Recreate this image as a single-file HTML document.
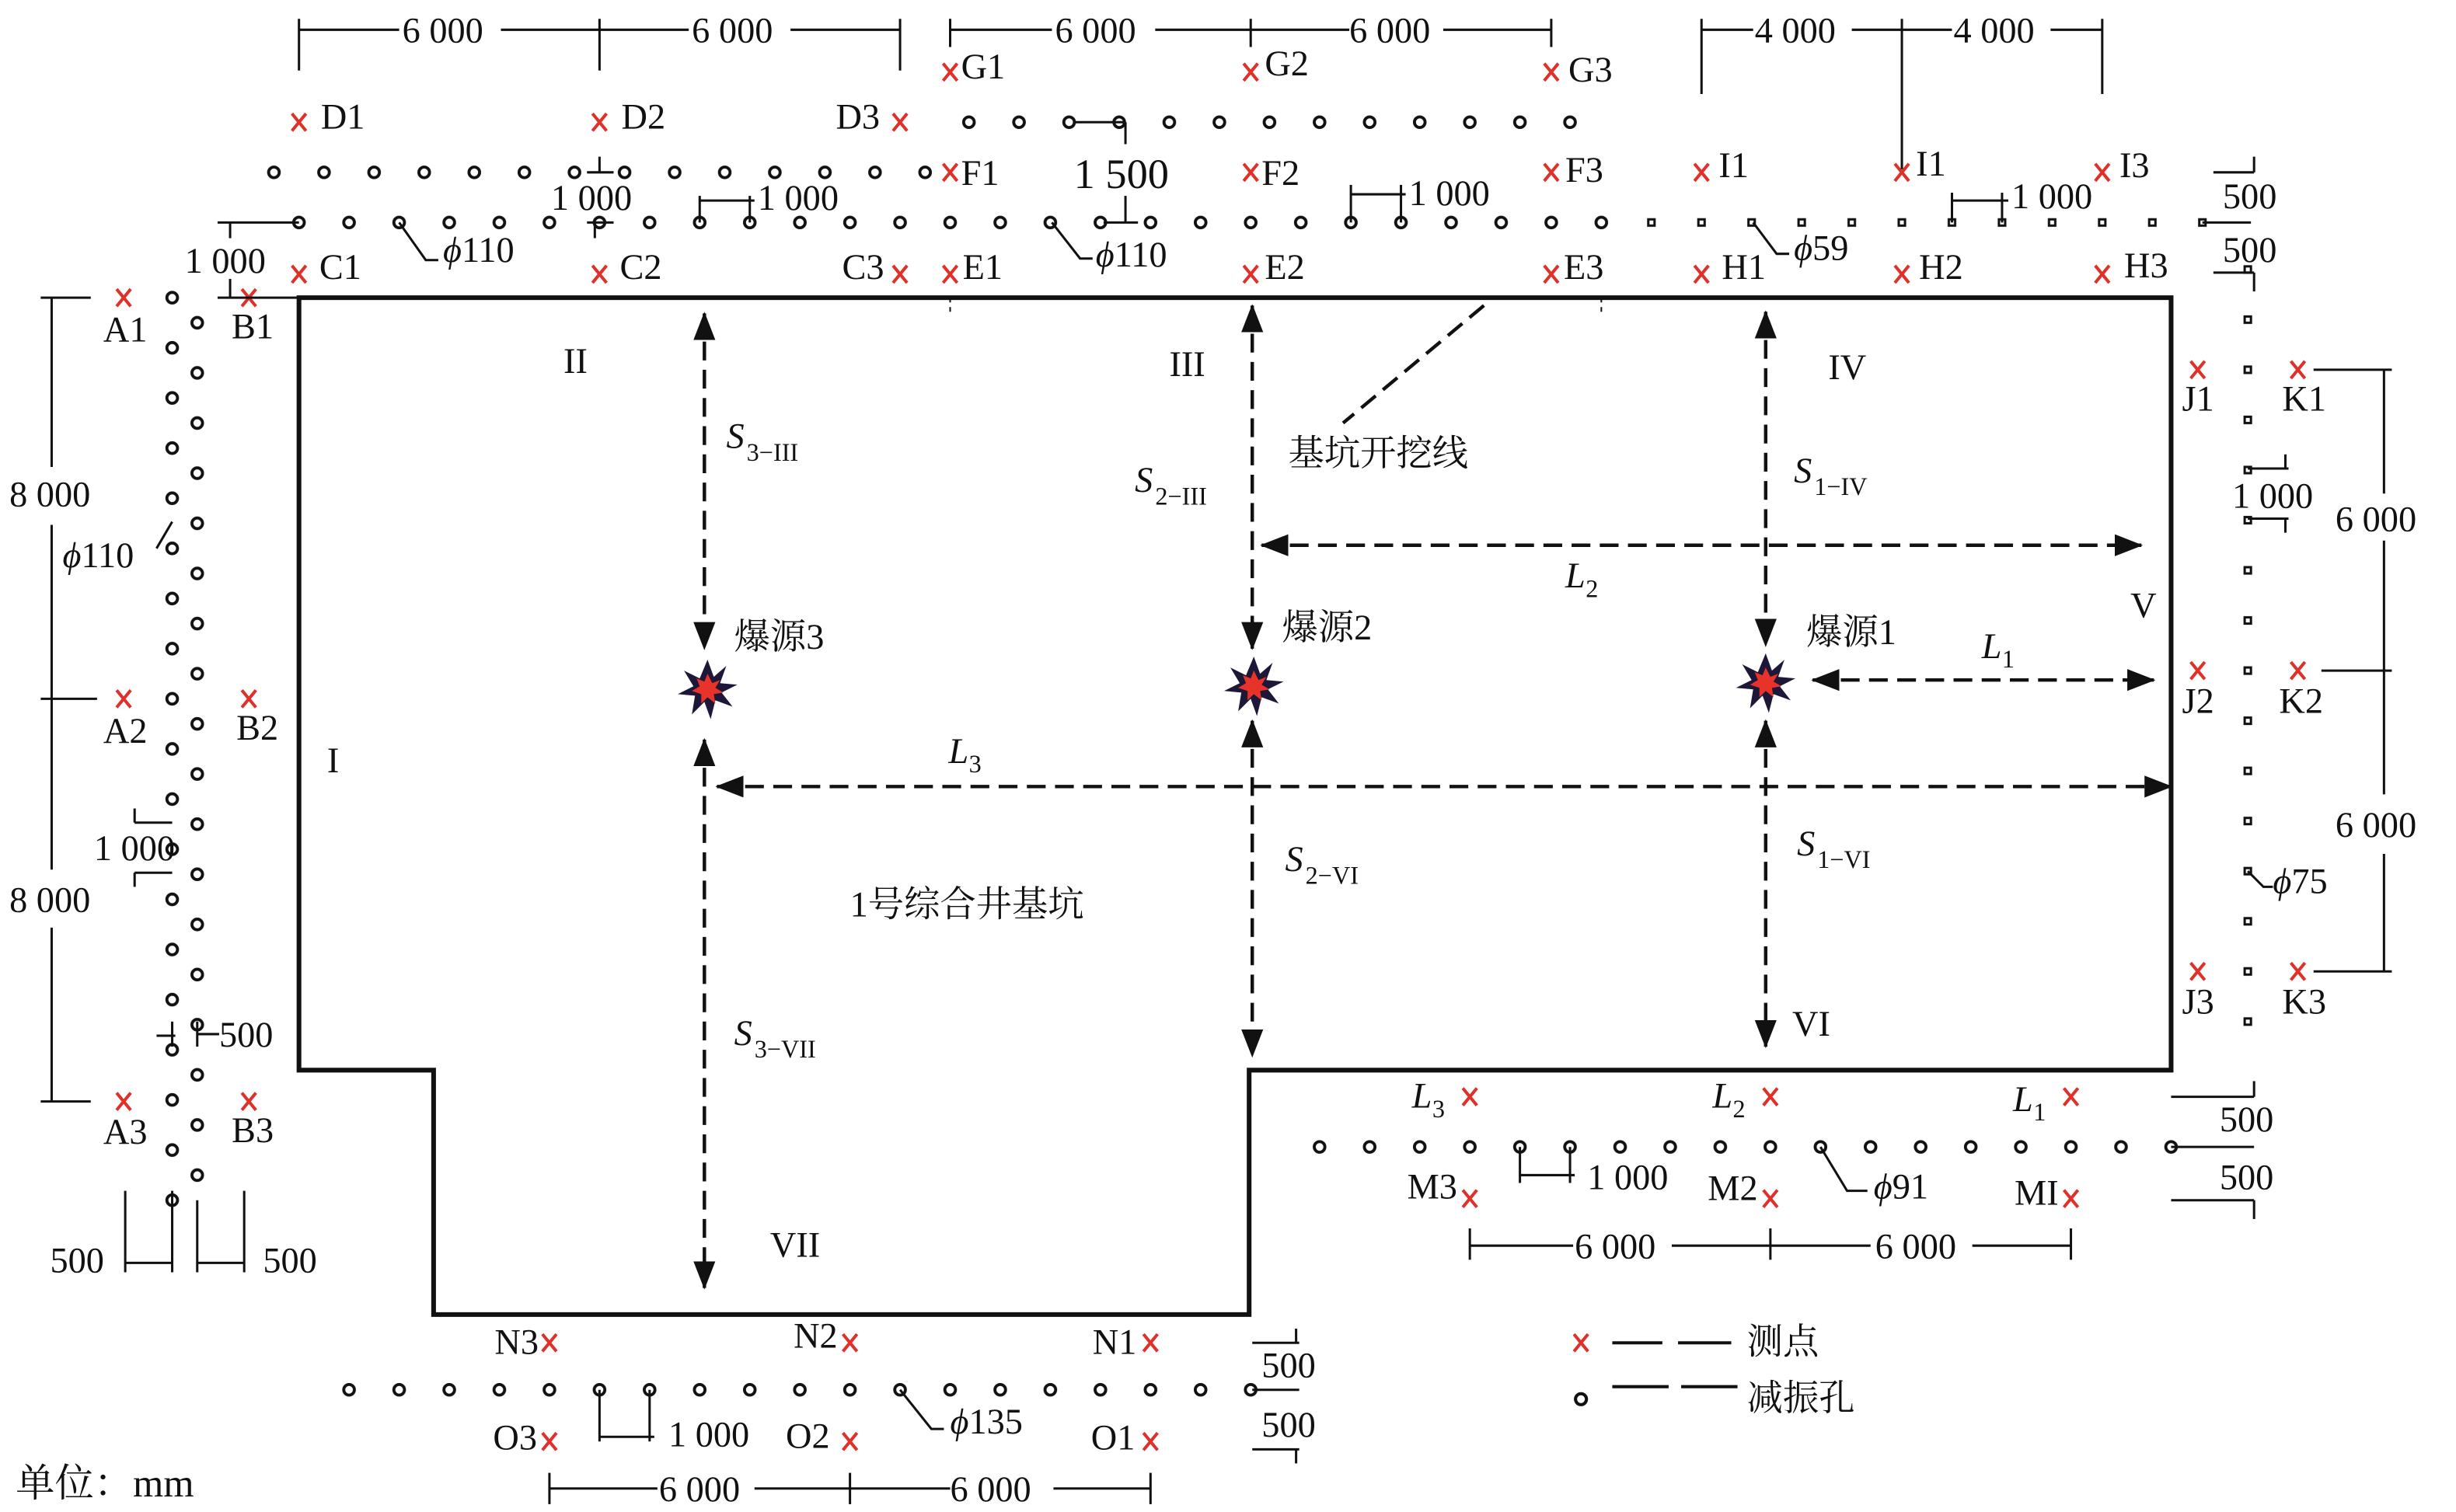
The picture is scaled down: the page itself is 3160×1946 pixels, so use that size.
<!DOCTYPE html>
<html><head><meta charset="utf-8"><style>
html,body{margin:0;padding:0;background:#fff}
svg{display:block}
text{font-family:"Liberation Serif","Noto Serif CJK SC",serif;fill:#111;font-size:23px}
.cn{font-family:"Liberation Serif","Noto Serif CJK SC","Noto Sans CJK SC",serif;font-size:23px}
.it{font-style:italic}
.sub{font-size:16px}
</style></head><body>
<svg width="3160" height="1946" viewBox="0 0 1569 965" preserveAspectRatio="none" xmlns="http://www.w3.org/2000/svg">
<defs>
<pattern id="ph" patternUnits="userSpaceOnUse" width="32" height="20"><circle cx="16" cy="10" r="3.4" fill="none" stroke="#111" stroke-width="1.9"/></pattern>
<pattern id="ps" patternUnits="userSpaceOnUse" width="32" height="20"><rect x="14" y="8" width="4" height="4" fill="none" stroke="#111" stroke-width="1.5"/></pattern>
<pattern id="pv" patternUnits="userSpaceOnUse" width="20" height="32"><rect x="8" y="14" width="4" height="4" fill="none" stroke="#111" stroke-width="1.5"/></pattern>
<pattern id="pz" patternUnits="userSpaceOnUse" width="32" height="32"><circle cx="8" cy="8" r="3.4" fill="none" stroke="#111" stroke-width="1.9"/><circle cx="24" cy="24" r="3.4" fill="none" stroke="#111" stroke-width="1.9"/></pattern>
<symbol id="x" viewBox="-6 -6 12 12" overflow="visible"><path d="M-4.5,-5.5L4.5,5.5M4.5,-5.5L-4.5,5.5" stroke="#e0302a" stroke-width="2"/></symbol>
<symbol id="boom" viewBox="-20 -20 40 40" overflow="visible">
<polygon points="0,-19 4,-8 12,-15 8,-4 19,-3 9,2 16,11 5,7 2,19 -2,8 -10,16 -8,4 -19,3 -9,-2 -15,-12 -5,-7" fill="#1e1838"/>
<polygon points="0,-10 3,-4 8,-6 5,-1 10,2 4,3 5,9 0,5 -4,9 -4,3 -10,1 -5,-2 -7,-7 -2,-5" fill="#e8332a"/>
</symbol>
<marker id="ah2" markerWidth="18" markerHeight="14" refX="17" refY="7" orient="auto-start-reverse" markerUnits="userSpaceOnUse"><path d="M0,0L18,7L0,14Z" fill="#111"/></marker>
</defs>

<polygon points="191,190 1387,190 1387,683 798,683 798,839 277,839 277,683 191,683" fill="none" stroke="#111" stroke-width="3"/>

<g transform="translate(603,68)"><rect width="416" height="20" fill="url(#ph)"/></g>
<g transform="translate(159,100)"><rect width="448" height="20" fill="url(#ph)"/></g>
<g transform="translate(175,132)"><rect width="864" height="20" fill="url(#ph)"/></g>
<g transform="translate(1039,132)"><rect width="384" height="20" fill="url(#ps)"/></g>
<g transform="translate(102,182)"><rect width="32" height="592" fill="url(#pz)"/></g>
<g transform="translate(1426,156)"><rect width="20" height="512" fill="url(#pv)"/></g>
<g transform="translate(827,722)"><rect width="576" height="20" fill="url(#ph)"/></g>
<g transform="translate(207,877)"><rect width="608" height="20" fill="url(#ph)"/></g>

<g>
<use href="#x" x="73" y="184" width="12" height="12"/><use href="#x" x="153" y="184" width="12" height="12"/>
<use href="#x" x="185" y="169" width="12" height="12"/><use href="#x" x="185" y="72" width="12" height="12"/>
<use href="#x" x="377" y="169" width="12" height="12"/><use href="#x" x="377" y="72" width="12" height="12"/>
<use href="#x" x="569" y="169" width="12" height="12"/><use href="#x" x="569" y="72" width="12" height="12"/>
<use href="#x" x="601" y="169" width="12" height="12"/><use href="#x" x="601" y="104" width="12" height="12"/><use href="#x" x="601" y="40" width="12" height="12"/>
<use href="#x" x="793" y="169" width="12" height="12"/><use href="#x" x="793" y="104" width="12" height="12"/><use href="#x" x="793" y="40" width="12" height="12"/>
<use href="#x" x="985" y="169" width="12" height="12"/><use href="#x" x="985" y="104" width="12" height="12"/><use href="#x" x="985" y="40" width="12" height="12"/>
<use href="#x" x="1081" y="169" width="12" height="12"/><use href="#x" x="1081" y="104" width="12" height="12"/>
<use href="#x" x="1209" y="169" width="12" height="12"/><use href="#x" x="1209" y="104" width="12" height="12"/>
<use href="#x" x="1337" y="169" width="12" height="12"/><use href="#x" x="1337" y="104" width="12" height="12"/>
<use href="#x" x="1398" y="230" width="12" height="12"/><use href="#x" x="1462" y="230" width="12" height="12"/>
<use href="#x" x="1398" y="422" width="12" height="12"/><use href="#x" x="1462" y="422" width="12" height="12"/>
<use href="#x" x="1398" y="614" width="12" height="12"/><use href="#x" x="1462" y="614" width="12" height="12"/>
<use href="#x" x="73" y="440" width="12" height="12"/><use href="#x" x="153" y="440" width="12" height="12"/>
<use href="#x" x="73" y="697" width="12" height="12"/><use href="#x" x="153" y="697" width="12" height="12"/>
<use href="#x" x="933" y="694" width="12" height="12"/><use href="#x" x="1125" y="694" width="12" height="12"/><use href="#x" x="1317" y="694" width="12" height="12"/>
<use href="#x" x="933" y="759" width="12" height="12"/><use href="#x" x="1125" y="759" width="12" height="12"/><use href="#x" x="1317" y="759" width="12" height="12"/>
<use href="#x" x="345" y="851" width="12" height="12"/><use href="#x" x="537" y="851" width="12" height="12"/><use href="#x" x="729" y="851" width="12" height="12"/>
<use href="#x" x="345" y="914" width="12" height="12"/><use href="#x" x="537" y="914" width="12" height="12"/><use href="#x" x="729" y="914" width="12" height="12"/>
<use href="#x" x="1004" y="851" width="12" height="12"/>
</g>

<text x="66" y="218">A1</text><text x="148" y="216">B1</text>
<text x="204" y="178">C1</text><text x="205" y="82">D1</text>
<text x="396" y="178">C2</text><text x="397" y="82">D2</text>
<text x="538" y="178">C3</text><text x="534" y="82">D3</text>
<text x="615" y="178">E1</text><text x="614" y="118">F1</text><text x="614" y="50">G1</text>
<text x="808" y="178">E2</text><text x="806" y="118">F2</text><text x="808" y="48">G2</text>
<text x="999" y="178">E3</text><text x="1000" y="116">F3</text><text x="1002" y="52">G3</text>
<text x="1100" y="178">H1</text><text x="1098" y="113">I1</text>
<text x="1226" y="178">H2</text><text x="1224" y="112">I1</text>
<text x="1357" y="177">H3</text><text x="1354" y="113">I3</text>
<text x="1394" y="262">J1</text><text x="1458" y="262">K1</text>
<text x="1394" y="455">J2</text><text x="1456" y="455">K2</text>
<text x="1394" y="647">J3</text><text x="1458" y="647">K3</text>
<text x="66" y="474">A2</text><text x="151" y="472">B2</text>
<text x="66" y="730">A3</text><text x="148" y="729">B3</text>
<text x="902" y="707" class="it">L</text><text x="915" y="713" class="sub">3</text>
<text x="1094" y="707" class="it">L</text><text x="1107" y="713" class="sub">2</text>
<text x="1286" y="709" class="it">L</text><text x="1299" y="715" class="sub">1</text>
<text x="899" y="765">M3</text><text x="1091" y="766">M2</text><text x="1287" y="769">MI</text>
<text x="316" y="864">N3</text><text x="507" y="860">N2</text><text x="698" y="864">N1</text>
<text x="315" y="925">O3</text><text x="502" y="924">O2</text><text x="697" y="925">O1</text>

<text x="360" y="238">II</text><text x="747" y="240">III</text><text x="1168" y="242">IV</text>
<text x="1361" y="394">V</text><text x="209" y="493">I</text><text x="1145" y="661">VI</text><text x="492" y="802">VII</text>

<g stroke="#111" stroke-width="2.2" stroke-dasharray="12,6" fill="none">
<line x1="450" y1="200" x2="450" y2="414" marker-start="url(#ah2)" marker-end="url(#ah2)"/>
<line x1="450" y1="472" x2="450" y2="822" marker-start="url(#ah2)" marker-end="url(#ah2)"/>
<line x1="800" y1="195" x2="800" y2="414" marker-start="url(#ah2)" marker-end="url(#ah2)"/>
<line x1="800" y1="460" x2="800" y2="674" marker-start="url(#ah2)" marker-end="url(#ah2)"/>
<line x1="1128" y1="199" x2="1128" y2="412" marker-start="url(#ah2)" marker-end="url(#ah2)"/>
<line x1="1128" y1="460" x2="1128" y2="668" marker-start="url(#ah2)" marker-end="url(#ah2)"/>
<line x1="806" y1="348" x2="1368" y2="348" marker-start="url(#ah2)" marker-end="url(#ah2)"/>
<line x1="1158" y1="434" x2="1376" y2="434" marker-start="url(#ah2)" marker-end="url(#ah2)"/>
<line x1="458" y1="502" x2="1387" y2="502" marker-start="url(#ah2)" marker-end="url(#ah2)"/>
<line x1="948" y1="195" x2="858" y2="270"/>
</g>
<g stroke="#111" stroke-width="1" stroke-dasharray="3,3"><line x1="607" y1="190" x2="607" y2="202"/><line x1="1023" y1="190" x2="1023" y2="202"/></g>

<use href="#boom" x="432" y="420" width="40" height="40"/>
<use href="#boom" x="781" y="418" width="40" height="40"/>
<use href="#boom" x="1108" y="416" width="40" height="40"/>

<text x="464" y="286" class="it">S</text><text x="477" y="294" class="sub">3−III</text>
<text x="725" y="314" class="it">S</text><text x="738" y="322" class="sub">2−III</text>
<text x="1146" y="308" class="it">S</text><text x="1159" y="316" class="sub">1−IV</text>
<text x="821" y="556" class="it">S</text><text x="834" y="564" class="sub">2−VI</text>
<text x="1148" y="546" class="it">S</text><text x="1161" y="554" class="sub">1−VI</text>
<text x="469" y="667" class="it">S</text><text x="482" y="675" class="sub">3−VII</text>
<text x="1000" y="375" class="it">L</text><text x="1013" y="381" class="sub">2</text>
<text x="1266" y="420" class="it">L</text><text x="1279" y="426" class="sub">1</text>
<text x="606" y="487" class="it">L</text><text x="619" y="493" class="sub">3</text>
<text x="469" y="414" class="cn">爆源3</text>
<text x="819" y="408" class="cn">爆源2</text>
<text x="1154" y="411" class="cn">爆源1</text>
<text x="823" y="297" class="cn">基坑开挖线</text>
<text x="543" y="585" class="cn">1号综合井基坑</text>

<g stroke="#111" stroke-width="1.5" fill="none">
<line x1="191" y1="19" x2="255" y2="19"/><line x1="320" y1="19" x2="440" y2="19"/><line x1="505" y1="19" x2="575" y2="19"/>
<line x1="191" y1="12" x2="191" y2="45"/><line x1="383" y1="12" x2="383" y2="45"/><line x1="575" y1="12" x2="575" y2="45"/>
<line x1="607" y1="19" x2="672" y2="19"/><line x1="738" y1="19" x2="862" y2="19"/><line x1="922" y1="19" x2="991" y2="19"/>
<line x1="607" y1="12" x2="607" y2="30"/><line x1="799" y1="12" x2="799" y2="30"/><line x1="991" y1="12" x2="991" y2="30"/>
<line x1="1087" y1="19" x2="1120" y2="19"/><line x1="1183" y1="19" x2="1247" y2="19"/><line x1="1310" y1="19" x2="1343" y2="19"/>
<line x1="1087" y1="12" x2="1087" y2="60"/><line x1="1215" y1="12" x2="1215" y2="108"/><line x1="1343" y1="12" x2="1343" y2="60"/>
<line x1="33" y1="190" x2="33" y2="298"/><line x1="33" y1="335" x2="33" y2="555"/><line x1="33" y1="592" x2="33" y2="703"/>
<line x1="26" y1="190" x2="58" y2="190"/><line x1="26" y1="446" x2="62" y2="446"/><line x1="26" y1="703" x2="58" y2="703"/>
<line x1="1523" y1="236" x2="1523" y2="315"/><line x1="1523" y1="345" x2="1523" y2="507"/><line x1="1523" y1="545" x2="1523" y2="620"/>
<line x1="1478" y1="236" x2="1528" y2="236"/><line x1="1483" y1="428" x2="1528" y2="428"/><line x1="1478" y1="620" x2="1528" y2="620"/>
<line x1="939" y1="795" x2="1005" y2="795"/><line x1="1068" y1="795" x2="1195" y2="795"/><line x1="1260" y1="795" x2="1323" y2="795"/>
<line x1="939" y1="784" x2="939" y2="804"/><line x1="1131" y1="784" x2="1131" y2="804"/><line x1="1323" y1="784" x2="1323" y2="804"/>
<line x1="351" y1="950" x2="420" y2="950"/><line x1="482" y1="950" x2="607" y2="950"/><line x1="673" y1="950" x2="735" y2="950"/>
<line x1="351" y1="940" x2="351" y2="960"/><line x1="543" y1="940" x2="543" y2="960"/><line x1="735" y1="940" x2="735" y2="960"/>
<line x1="139" y1="142" x2="191" y2="142"/><line x1="147" y1="142" x2="147" y2="152"/><line x1="147" y1="178" x2="147" y2="190"/><line x1="139" y1="190" x2="191" y2="190"/>
<line x1="383" y1="100" x2="383" y2="110"/><line x1="375" y1="110" x2="392" y2="110"/><line x1="375" y1="142" x2="392" y2="142"/><line x1="380" y1="142" x2="380" y2="152"/>
<line x1="447" y1="125" x2="447" y2="142"/><line x1="479" y1="125" x2="479" y2="142"/><line x1="447" y1="128" x2="482" y2="128"/>
<line x1="687" y1="78" x2="719" y2="78"/><line x1="719" y1="78" x2="719" y2="92"/><line x1="719" y1="125" x2="719" y2="142"/><line x1="705" y1="142" x2="727" y2="142"/>
<line x1="863" y1="118" x2="863" y2="142"/><line x1="895" y1="118" x2="895" y2="142"/><line x1="863" y1="124" x2="898" y2="124"/>
<line x1="1247" y1="123" x2="1247" y2="142"/><line x1="1279" y1="123" x2="1279" y2="142"/><line x1="1247" y1="128" x2="1283" y2="128"/>
<line x1="1407" y1="142" x2="1438" y2="142"/><line x1="1414" y1="110" x2="1440" y2="110"/><line x1="1440" y1="100" x2="1440" y2="110"/><line x1="1414" y1="174" x2="1440" y2="174"/><line x1="1440" y1="174" x2="1440" y2="186"/>
<line x1="1436" y1="299" x2="1462" y2="299"/><line x1="1460" y1="290" x2="1460" y2="299"/><line x1="1436" y1="331" x2="1462" y2="331"/><line x1="1460" y1="331" x2="1460" y2="340"/>
<line x1="86" y1="525" x2="110" y2="525"/><line x1="86" y1="516" x2="86" y2="525"/><line x1="86" y1="557" x2="110" y2="557"/><line x1="86" y1="557" x2="86" y2="566"/>
<line x1="100" y1="661" x2="112" y2="661"/><line x1="110" y1="652" x2="110" y2="668"/><line x1="126" y1="660" x2="140" y2="660"/><line x1="126" y1="652" x2="126" y2="668"/>
<line x1="80" y1="806" x2="110" y2="806"/><line x1="80" y1="760" x2="80" y2="812"/><line x1="110" y1="760" x2="110" y2="812"/>
<line x1="126" y1="806" x2="156" y2="806"/><line x1="126" y1="766" x2="126" y2="812"/><line x1="156" y1="760" x2="156" y2="812"/>
<line x1="971" y1="732" x2="971" y2="755"/><line x1="1003" y1="732" x2="1003" y2="755"/><line x1="971" y1="750" x2="1006" y2="750"/>
<line x1="1387" y1="700" x2="1440" y2="700"/><line x1="1440" y1="690" x2="1440" y2="700"/><line x1="1387" y1="732" x2="1440" y2="732"/><line x1="1387" y1="766" x2="1440" y2="766"/><line x1="1440" y1="766" x2="1440" y2="778"/>
<line x1="383" y1="887" x2="383" y2="920"/><line x1="415" y1="887" x2="415" y2="920"/><line x1="383" y1="917" x2="418" y2="917"/>
<line x1="800" y1="857" x2="830" y2="857"/><line x1="828" y1="848" x2="828" y2="857"/><line x1="800" y1="887" x2="830" y2="887"/><line x1="800" y1="925" x2="830" y2="925"/><line x1="828" y1="925" x2="828" y2="934"/>
<polyline points="255,142 272,166 280,166"/><polyline points="672,142 690,165 698,165"/><polyline points="1120,142 1135,162 1143,162"/>
<polyline points="110,333 100,350"/><polyline points="1436,556 1446,566 1452,566"/>
<polyline points="1163,732 1180,760 1193,760"/><polyline points="575,887 595,912 603,912"/>
</g>

<text x="257" y="27">6 000</text><text x="442" y="27">6 000</text>
<text x="674" y="27">6 000</text><text x="862" y="27">6 000</text>
<text x="1121" y="27">4 000</text><text x="1248" y="27">4 000</text>
<text x="6" y="323">8 000</text><text x="6" y="582">8 000</text>
<text x="1492" y="339">6 000</text><text x="1492" y="534">6 000</text>
<text x="1006" y="803">6 000</text><text x="1198" y="803">6 000</text>
<text x="421" y="958">6 000</text><text x="607" y="958">6 000</text>
<text x="118" y="174">1 000</text><text x="352" y="134">1 000</text><text x="484" y="134">1 000</text>
<text x="686" y="120" style="font-size:27px">1 500</text><text x="900" y="131">1 000</text><text x="1285" y="133">1 000</text>
<text x="1420" y="133">500</text><text x="1420" y="167">500</text>
<text x="1426" y="324">1 000</text><text x="60" y="549">1 000</text>
<text x="140" y="668">500</text><text x="32" y="812">500</text><text x="168" y="812">500</text>
<text x="1014" y="759">1 000</text><text x="1418" y="722">500</text><text x="1418" y="759">500</text>
<text x="427" y="923">1 000</text><text x="806" y="879">500</text><text x="806" y="917">500</text>
<text x="283" y="167"><tspan class="it">ϕ</tspan>110</text>
<text x="700" y="170"><tspan class="it">ϕ</tspan>110</text>
<text x="1146" y="166"><tspan class="it">ϕ</tspan>59</text>
<text x="40" y="362"><tspan class="it">ϕ</tspan>110</text>
<text x="1452" y="570"><tspan class="it">ϕ</tspan>75</text>
<text x="1197" y="765"><tspan class="it">ϕ</tspan>91</text>
<text x="607" y="915"><tspan class="it">ϕ</tspan>135</text>

<g stroke="#111" stroke-width="2"><line x1="1030" y1="857" x2="1062" y2="857"/><line x1="1072" y1="857" x2="1106" y2="857"/><line x1="1030" y1="885" x2="1066" y2="885"/><line x1="1074" y1="885" x2="1110" y2="885"/></g>
<circle cx="1010" cy="893" r="3.5" fill="none" stroke="#111" stroke-width="2"/>
<text x="1116" y="864" class="cn">测点</text>
<text x="1116" y="900" class="cn">减振孔</text>
<text x="10" y="955" class="cn" style="font-size:25px">单位：mm</text>
</svg>
</body></html>
